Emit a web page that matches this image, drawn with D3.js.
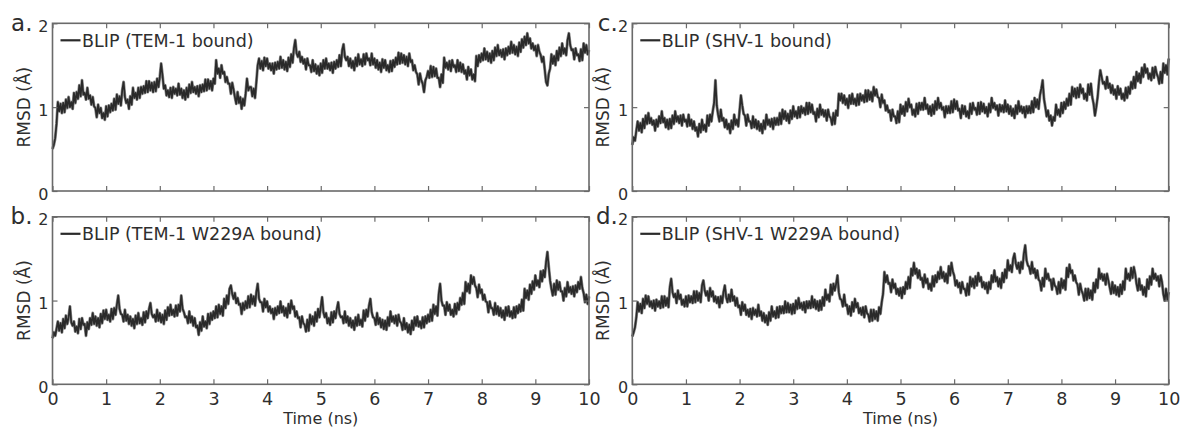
<!DOCTYPE html>
<html>
<head>
<meta charset="utf-8">
<script src="https://cdn.jsdelivr.net/npm/d3@7"></script>
<style>
  html, body { margin: 0; padding: 0; background: #fff; }
  svg { display: block; font-family: "DejaVu Sans", sans-serif; }
</style>
</head>
<body>
<svg></svg>
<script>
// RMSD traces, one sample every 0.025 ns from 0 to 10 ns (one row per ns)
const timeStep = 0.025;

const rmsdTem1 = [
  0.50,0.55,0.63,0.80, 1.06,0.95,1.04,0.93, 1.05,0.94,1.09,0.99, 1.12,1.00,1.06,0.98, 1.17,1.05,1.18,1.10, 1.26,1.13,1.32,1.15, 1.17,1.09,1.23,1.10, 1.14,1.03,1.12,1.01, 0.99,0.88,1.03,0.93, 0.99,0.87,0.93,0.85,
  1.01,0.89,1.02,0.94, 1.04,0.96,1.10,0.97, 1.15,1.04,1.13,1.02, 1.20,1.30,1.12,1.05, 1.09,0.98,1.13,1.03, 1.23,1.11,1.17,1.09, 1.23,1.11,1.24,1.16, 1.25,1.17,1.31,1.18, 1.31,1.20,1.29,1.18, 1.30,1.19,1.34,1.24,
  1.36,1.52,1.38,1.22, 1.26,1.14,1.20,1.12, 1.23,1.11,1.24,1.16, 1.22,1.14,1.28,1.15, 1.22,1.11,1.20,1.09, 1.23,1.12,1.27,1.17, 1.30,1.18,1.24,1.16, 1.25,1.13,1.26,1.18, 1.27,1.19,1.33,1.20, 1.33,1.22,1.31,1.20,
  1.34,1.28,1.56,1.40, 1.46,1.35,1.50,1.40, 1.42,1.30,1.36,1.28, 1.28,1.16,1.29,1.21, 1.12,1.04,1.18,1.05, 1.12,0.98,1.10,1.02, 1.16,1.34,1.20,1.24, 1.24,1.13,1.22,1.11, 1.30,1.50,1.58,1.46, 1.55,1.44,1.59,1.49,
  1.58,1.46,1.52,1.44, 1.52,1.40,1.53,1.45, 1.54,1.46,1.60,1.47, 1.56,1.45,1.54,1.43, 1.59,1.48,1.63,1.53, 1.70,1.80,1.64,1.60, 1.66,1.54,1.60,1.52, 1.57,1.45,1.58,1.50, 1.50,1.42,1.56,1.43, 1.51,1.40,1.49,1.38,
  1.52,1.41,1.56,1.46, 1.58,1.46,1.52,1.44, 1.53,1.41,1.54,1.46, 1.56,1.48,1.62,1.49, 1.68,1.75,1.60,1.56, 1.60,1.49,1.58,1.47, 1.55,1.44,1.59,1.49, 1.63,1.51,1.57,1.49, 1.63,1.51,1.64,1.56, 1.58,1.50,1.64,1.51,
  1.58,1.47,1.56,1.45, 1.53,1.42,1.57,1.47, 1.56,1.44,1.50,1.42, 1.55,1.43,1.56,1.48, 1.59,1.51,1.65,1.52, 1.64,1.53,1.62,1.51, 1.60,1.49,1.64,1.54, 1.56,1.44,1.50,1.42, 1.39,1.27,1.40,1.32, 1.28,1.18,1.32,1.36,
  1.43,1.35,1.49,1.36, 1.48,1.37,1.46,1.35, 1.35,1.24,1.39,1.29, 1.59,1.47,1.53,1.45, 1.55,1.43,1.56,1.48, 1.50,1.42,1.56,1.43, 1.53,1.42,1.51,1.40, 1.44,1.33,1.48,1.38, 1.45,1.33,1.39,1.31, 1.61,1.49,1.62,1.54,
  1.64,1.56,1.70,1.57, 1.66,1.55,1.64,1.53, 1.67,1.56,1.71,1.61, 1.74,1.62,1.68,1.60, 1.69,1.57,1.70,1.62, 1.72,1.64,1.78,1.65, 1.74,1.63,1.72,1.61, 1.77,1.66,1.81,1.71, 1.84,1.74,1.88,1.76, 1.82,1.70,1.76,1.68,
  1.73,1.61,1.74,1.66, 1.62,1.54,1.60,1.45, 1.30,1.26,1.40,1.46, 1.63,1.52,1.61,1.50, 1.67,1.56,1.71,1.61, 1.76,1.64,1.70,1.62, 1.80,1.88,1.74,1.68, 1.69,1.57,1.70,1.62, 1.63,1.55,1.69,1.56, 1.76,1.65,1.74,1.63,
  1.68
];

const rmsdTem1W229A = [
  0.55,0.62,0.58,0.66, 0.75,0.64,0.73,0.62, 0.78,0.67,0.82,0.72, 0.80,0.93,0.74,0.70, 0.75,0.63,0.69,0.61, 0.78,0.66,0.79,0.71, 0.72,0.58,0.74,0.66, 0.79,0.71,0.85,0.72, 0.81,0.70,0.79,0.68, 0.84,0.73,0.88,0.78,
  0.89,0.77,0.83,0.75, 0.90,0.78,0.91,0.83, 0.95,1.06,0.90,0.84, 0.83,0.75,0.89,0.76, 0.83,0.72,0.81,0.70, 0.78,0.67,0.82,0.72, 0.85,0.73,0.79,0.71, 0.86,0.74,0.87,0.79, 0.90,0.97,0.84,0.80, 0.83,0.75,0.89,0.76,
  0.85,0.74,0.83,0.72, 0.88,0.77,0.92,0.82, 0.95,0.83,0.89,0.81, 0.94,0.82,0.95,0.87, 1.06,0.90,0.86,0.80, 0.81,0.73,0.87,0.74, 0.81,0.70,0.79,0.68, 0.70,0.59,0.74,0.64, 0.81,0.69,0.75,0.67, 0.84,0.72,0.85,0.77,
  0.87,0.79,0.93,0.80, 0.95,0.84,0.93,0.82, 1.02,0.91,1.06,0.96, 1.14,1.18,1.08,1.02, 1.09,0.97,1.03,0.95, 0.96,0.84,0.97,0.89, 0.99,0.91,1.05,0.92, 1.07,0.96,1.05,0.94, 1.10,1.20,1.02,0.98, 0.98,0.87,1.02,0.92,
  0.99,0.87,0.93,0.85, 0.90,0.78,0.91,0.83, 0.93,0.85,0.99,0.86, 0.93,0.82,0.91,0.80, 0.96,0.85,1.00,0.90, 0.93,0.81,0.87,0.79, 0.80,0.68,0.81,0.73, 0.71,0.63,0.77,0.64, 0.83,0.72,0.81,0.70, 0.86,0.75,0.90,0.80,
  0.92,1.04,0.86,0.80, 0.85,0.73,0.79,0.71, 0.86,0.74,0.87,0.79, 0.90,0.98,0.84,0.80, 0.81,0.73,0.87,0.74, 0.81,0.70,0.79,0.68, 0.76,0.65,0.80,0.70, 0.83,0.71,0.77,0.69, 0.88,0.76,0.89,0.81, 0.94,1.02,0.86,0.80,
  0.79,0.71,0.85,0.72, 0.79,0.68,0.77,0.66, 0.76,0.65,0.80,0.70, 0.87,0.75,0.81,0.73, 0.82,0.70,0.83,0.75, 0.73,0.65,0.79,0.66, 0.73,0.62,0.71,0.60, 0.76,0.65,0.80,0.70, 0.81,0.69,0.75,0.67, 0.80,0.68,0.81,0.73,
  0.83,0.75,0.89,0.76, 0.95,0.84,0.93,0.82, 1.08,1.20,1.00,0.94, 0.94,0.83,0.98,0.88, 0.95,0.83,0.89,0.81, 0.96,0.84,0.97,0.89, 1.03,0.95,1.09,0.96, 1.22,1.11,1.20,1.09, 1.30,1.20,1.28,1.18, 1.15,1.04,1.19,1.09,
  1.13,1.01,1.07,0.99, 0.98,0.86,0.99,0.91, 0.91,0.83,0.97,0.84, 0.93,0.82,0.91,0.80, 0.88,0.77,0.92,0.82, 0.93,0.81,0.87,0.79, 0.92,0.80,0.93,0.85, 0.95,0.87,1.01,0.88, 1.14,1.03,1.12,1.01, 1.19,1.08,1.23,1.13,
  1.30,1.18,1.24,1.16, 1.35,1.23,1.36,1.28, 1.46,1.58,1.40,1.24, 1.14,1.06,1.20,1.07, 1.24,1.13,1.22,1.11, 1.11,1.00,1.15,1.05, 1.22,1.10,1.16,1.08, 1.17,1.05,1.18,1.10, 1.22,1.14,1.28,1.15, 1.09,0.98,1.07,0.96,
  1.05
];

const rmsdShv1 = [
  0.55,0.64,0.60,0.72, 0.83,0.72,0.81,0.70, 0.86,0.75,0.90,0.80, 0.93,0.81,0.87,0.79, 0.84,0.72,0.85,0.77, 0.89,0.81,0.95,0.82, 0.87,0.76,0.85,0.74, 0.86,0.75,0.90,0.80, 0.95,0.83,0.89,0.81, 0.90,0.78,0.91,0.83,
  0.85,0.77,0.91,0.78, 0.85,0.74,0.83,0.72, 0.76,0.65,0.80,0.70, 0.85,0.73,0.79,0.71, 0.90,0.78,0.91,0.83, 0.95,1.05,1.32,1.02, 0.91,0.83,0.97,0.84, 0.87,0.76,0.85,0.74, 0.80,0.69,0.84,0.74, 0.91,0.79,0.85,0.77,
  0.96,1.14,1.02,0.92, 0.90,0.78,0.91,0.83, 0.83,0.75,0.89,0.76, 0.85,0.74,0.83,0.72, 0.80,0.69,0.84,0.74, 0.91,0.79,0.85,0.77, 0.86,0.74,0.87,0.79, 0.87,0.79,0.93,0.80, 0.97,0.86,0.95,0.84, 0.92,0.81,0.96,0.86,
  1.01,0.89,0.95,0.87, 1.00,0.88,1.01,0.93, 0.99,0.91,1.05,0.92, 1.05,0.94,1.03,0.92, 0.94,0.83,0.98,0.88, 1.03,0.91,0.97,0.89, 0.96,0.84,0.97,0.89, 0.87,0.79,0.93,0.80, 0.96,0.90,1.16,1.08, 1.16,1.05,1.14,1.03,
  1.10,0.99,1.14,1.04, 1.16,1.04,1.10,1.02, 1.15,1.03,1.16,1.08, 1.14,1.06,1.20,1.07, 1.20,1.09,1.18,1.07, 1.24,1.14,1.21,1.12, 1.11,1.00,1.15,1.05, 1.08,0.96,1.02,0.94, 0.96,0.84,0.97,0.89, 0.89,0.81,0.95,0.82,
  1.03,0.92,1.01,0.90, 1.06,0.95,1.10,1.00, 1.03,0.91,0.97,0.89, 1.04,0.92,1.05,0.97, 1.05,0.97,1.11,0.98, 1.03,0.92,1.01,0.90, 1.03,0.92,1.07,0.97, 1.11,0.99,1.05,0.97, 1.00,0.88,1.01,0.93, 1.01,0.93,1.07,0.94,
  1.09,0.98,1.07,0.96, 0.98,0.87,1.02,0.92, 1.01,0.89,0.95,0.87, 1.04,0.92,1.05,0.97, 0.99,0.91,1.05,0.92, 1.06,0.95,1.04,0.93, 1.00,0.89,1.04,0.94, 1.11,0.99,1.05,0.97, 1.02,0.90,1.03,0.95, 1.02,0.94,1.08,0.95,
  1.03,0.92,1.01,0.90, 0.98,0.87,1.02,0.92, 1.07,0.95,1.01,0.93, 1.00,0.88,1.01,0.93, 1.01,0.93,1.07,0.94, 1.11,1.00,1.09,0.98, 1.14,1.22,1.32,1.10, 1.00,0.89,0.96,0.84, 0.90,0.78,0.88,0.84, 1.03,0.91,0.97,0.89,
  1.05,0.93,1.06,0.98, 1.10,1.02,1.16,1.03, 1.24,1.13,1.22,1.11, 1.23,1.12,1.27,1.17, 1.22,1.10,1.16,1.08, 1.27,1.15,1.28,1.12, 1.04,0.90,1.00,1.12, 1.30,1.44,1.36,1.28, 1.30,1.22,1.36,1.23, 1.28,1.17,1.26,1.15,
  1.21,1.10,1.25,1.15, 1.22,1.10,1.16,1.08, 1.23,1.11,1.24,1.16, 1.30,1.22,1.36,1.23, 1.42,1.31,1.40,1.29, 1.47,1.36,1.51,1.41, 1.46,1.34,1.40,1.32, 1.47,1.35,1.48,1.40, 1.36,1.28,1.42,1.29, 1.52,1.41,1.50,1.39,
  1.58
];

const rmsdShv1W229A = [
  0.57,0.62,0.68,0.80, 0.98,0.87,0.96,0.85, 1.02,0.91,1.06,0.96, 1.05,0.93,0.99,0.91, 1.00,0.88,1.01,0.93, 0.99,0.91,1.05,0.92, 1.05,0.94,1.03,0.92, 1.16,1.26,1.10,1.04, 1.08,0.97,1.12,1.02, 1.07,0.95,1.01,0.93,
  1.05,0.93,1.06,0.98, 1.05,0.97,1.11,0.98, 1.11,1.00,1.09,0.98, 1.18,1.24,1.12,1.06, 1.11,1.00,1.15,1.05, 1.11,0.99,1.05,0.97, 1.04,0.92,1.05,0.97, 1.10,1.18,1.04,0.98, 1.07,0.99,1.13,1.00, 1.05,0.94,1.03,0.92,
  0.94,0.83,0.98,0.88, 0.95,0.83,0.89,0.81, 0.90,0.78,0.91,0.83, 0.89,0.81,0.95,0.82, 0.87,0.76,0.85,0.74, 0.82,0.71,0.86,0.76, 0.93,0.81,0.87,0.79, 0.92,0.80,0.93,0.85, 0.93,0.85,0.99,0.86, 0.97,0.86,0.95,0.84,
  0.96,0.85,1.00,0.90, 1.03,0.91,0.97,0.89, 0.98,0.86,0.99,0.91, 0.99,0.91,1.05,0.92, 1.01,0.90,0.99,0.88, 1.00,0.89,1.04,0.94, 1.13,1.01,1.07,0.99, 1.19,1.07,1.20,1.12, 1.20,1.30,1.10,1.02, 1.01,0.93,1.07,0.94,
  0.95,0.84,0.93,0.82, 0.98,0.87,1.02,0.92, 0.97,0.85,0.91,0.83, 0.92,0.80,0.93,0.85, 0.83,0.75,0.89,0.76, 0.89,0.78,0.87,0.76, 0.92,0.84,0.98,1.08, 1.34,1.22,1.30,1.20, 1.21,1.10,1.25,1.15, 1.20,1.08,1.14,1.06,
  1.15,1.03,1.16,1.08, 1.22,1.14,1.28,1.15, 1.38,1.30,1.45,1.32, 1.38,1.27,1.36,1.25, 1.27,1.16,1.31,1.21, 1.26,1.14,1.20,1.12, 1.29,1.17,1.30,1.22, 1.34,1.26,1.40,1.27, 1.34,1.23,1.32,1.21, 1.41,1.30,1.45,1.35,
  1.30,1.18,1.24,1.16, 1.21,1.09,1.22,1.14, 1.14,1.06,1.20,1.07, 1.28,1.17,1.26,1.15, 1.29,1.18,1.33,1.23, 1.28,1.16,1.22,1.14, 1.21,1.09,1.22,1.14, 1.30,1.22,1.36,1.23, 1.28,1.17,1.26,1.15, 1.33,1.22,1.37,1.27,
  1.48,1.36,1.42,1.34, 1.50,1.56,1.44,1.38, 1.45,1.33,1.46,1.38, 1.56,1.66,1.48,1.42, 1.40,1.32,1.46,1.33, 1.38,1.27,1.36,1.25, 1.23,1.12,1.27,1.17, 1.38,1.26,1.32,1.24, 1.25,1.13,1.26,1.18, 1.16,1.08,1.22,1.09,
  1.26,1.15,1.24,1.13, 1.39,1.28,1.43,1.33, 1.36,1.24,1.30,1.22, 1.19,1.07,1.20,1.12, 1.08,1.00,1.14,1.01, 1.14,1.03,1.12,1.01, 1.21,1.10,1.25,1.15, 1.38,1.26,1.32,1.24, 1.31,1.19,1.32,1.24, 1.16,1.08,1.22,1.09,
  1.18,1.07,1.16,1.05, 1.19,1.08,1.23,1.13, 1.38,1.26,1.32,1.24, 1.39,1.27,1.40,1.32, 1.20,1.12,1.26,1.13, 1.18,1.07,1.16,1.05, 1.25,1.14,1.29,1.19, 1.38,1.26,1.32,1.24, 1.29,1.17,1.30,1.22, 1.08,1.00,1.14,1.01,
  1.10
];

const panelLetters = ["a.", "b.", "c.", "d."];
const legendLabels = [
  "BLIP (TEM-1 bound)",
  "BLIP (TEM-1 W229A bound)",
  "BLIP (SHV-1 bound)",
  "BLIP (SHV-1 W229A bound)"
];
const xTicks = [0, 1, 2, 3, 4, 5, 6, 7, 8, 9, 10];
const yTicks = [0, 1, 2];
const xTitle = "Time (ns)";
const yTitle = "RMSD (Å)";

const width = 1184;
const height = 427;

const textColor = "#2e2e2e";
const frameColor = "#6a6a6a";
const traceColor = "#2a2a2a";
const traceEdge = "#8e8e8e";

// panel boxes: two columns, two rows
const columns = [{ left: 52.5, w: 536.5 }, { left: 632.3, w: 536.4 }];
const rows = [{ top: 23.3, h: 167.7 }, { top: 216.8, h: 167.5 }];

const panels = [
  { values: rmsdTem1,      col: 0, row: 0 },
  { values: rmsdTem1W229A, col: 0, row: 1 },
  { values: rmsdShv1,      col: 1, row: 0 },
  { values: rmsdShv1W229A, col: 1, row: 1 }
];

const svg = d3.select("svg")
  .attr("width", width)
  .attr("height", height);

const drawPanel = (p, i) => {
  const col = columns[p.col];
  const row = rows[p.row];
  const showXLabels = p.row === 1;

  const x = d3.scaleLinear().domain([0, 10]).range([col.left, col.left + col.w]);
  const y = d3.scaleLinear().domain([0, 2]).range([row.top + row.h, row.top]);

  const g = svg.append("g").attr("class", "panel");

  // trace: grey fringe underneath, dark core on top
  const line = d3.line()
    .x((d, k) => x(k * timeStep))
    .y(d => y(d));

  g.append("path")
    .datum(p.values)
    .attr("fill", "none")
    .attr("stroke", traceEdge)
    .attr("stroke-width", 3)
    .attr("stroke-linejoin", "round")
    .attr("d", line);

  g.append("path")
    .datum(p.values)
    .attr("fill", "none")
    .attr("stroke", traceColor)
    .attr("stroke-width", 1.7)
    .attr("stroke-linejoin", "round")
    .attr("d", line);

  // axes with inward ticks
  const styleAxis = (sel, size) => {
    sel.attr("font-family", null).attr("font-size", size);
    sel.select(".domain").remove();
    sel.selectAll(".tick line").attr("stroke", frameColor).attr("stroke-width", 1.2);
    sel.selectAll(".tick text").attr("fill", textColor);
  };

  g.append("g")
    .attr("transform", "translate(0," + (row.top + row.h) + ")")
    .call(d3.axisBottom(x).tickValues(xTicks).tickSizeInner(-5).tickSizeOuter(0).tickPadding(8)
      .tickFormat(showXLabels ? d3.format("d") : ""))
    .call(styleAxis, 17.5);

  g.append("g")
    .attr("transform", "translate(0," + row.top + ")")
    .call(d3.axisTop(x).tickValues(xTicks).tickSizeInner(-5).tickSizeOuter(0).tickFormat(""))
    .call(styleAxis, 10);

  g.append("g")
    .attr("transform", "translate(" + col.left + ",0)")
    .call(d3.axisLeft(y).tickValues(yTicks).tickSizeInner(-5).tickSizeOuter(0).tickPadding(4)
      .tickFormat(d3.format("d")))
    .call(styleAxis, 16)
    .selectAll(".tick text").attr("dy", "0.5em");

  g.append("g")
    .attr("transform", "translate(" + (col.left + col.w) + ",0)")
    .call(d3.axisRight(y).tickValues(yTicks).tickSizeInner(-5).tickSizeOuter(0).tickFormat(""))
    .call(styleAxis, 10);

  // frame
  g.append("rect")
    .attr("x", col.left)
    .attr("y", row.top)
    .attr("width", col.w)
    .attr("height", row.h)
    .attr("fill", "none")
    .attr("stroke", frameColor)
    .attr("stroke-width", 1.6);

  // legend
  g.append("line")
    .attr("x1", col.left + 8)
    .attr("x2", col.left + 28)
    .attr("y1", row.top + 17)
    .attr("y2", row.top + 17)
    .attr("stroke", traceColor)
    .attr("stroke-width", 2.2);

  g.append("text")
    .attr("x", col.left + 29.5)
    .attr("y", row.top + 23.5)
    .attr("font-size", 17.5)
    .attr("fill", textColor)
    .text(legendLabels[i]);

  // y title
  g.append("text")
    .attr("transform", "translate(" + (col.left - 23) + "," + (row.top + row.h / 2) + ") rotate(-90)")
    .attr("text-anchor", "middle")
    .attr("font-size", 17)
    .attr("fill", textColor)
    .text(yTitle);

  // panel letter
  g.append("text")
    .attr("x", col.left - (p.col === 0 ? 20 : 14.5))
    .attr("y", row.top + 7.5)
    .attr("text-anchor", "end")
    .attr("font-size", 23)
    .attr("fill", textColor)
    .text(panelLetters[i]);

  // x title
  if (showXLabels) {
    g.append("text")
      .attr("x", col.left + col.w / 2)
      .attr("y", row.top + row.h + 39.5)
      .attr("text-anchor", "middle")
      .attr("font-size", 16)
      .attr("fill", textColor)
      .text(xTitle);
  }
};

panels.forEach(drawPanel);
</script>
</body>
</html>
